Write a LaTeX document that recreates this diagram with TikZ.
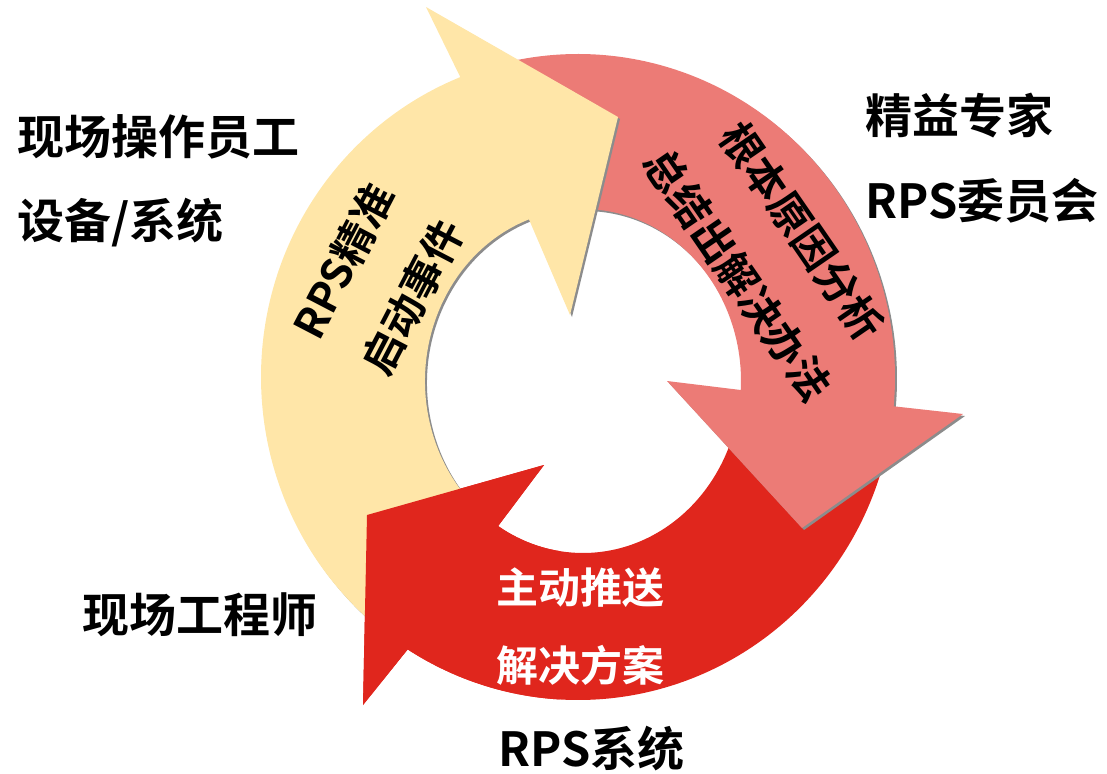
\documentclass[tikz,border=0pt]{standalone}
\usepackage{fontspec}
\newfontfamily\cjk{Noto Sans CJK SC}[BoldFont={Noto Sans CJK SC Bold}]
\usetikzlibrary{shadows}
\definecolor{cycyellow}{RGB}{255,230,168}
\definecolor{cycpink}{RGB}{236,123,118}
\definecolor{cycred}{RGB}{224,38,29}

\begin{document}
\begin{tikzpicture}[
  x=1pt, y=-1pt,
  lbl/.style={font=\cjk\bfseries\fontsize{47}{56}\selectfont, anchor=west, inner sep=0pt},
  intext/.style={font=\cjk\bfseries\fontsize{42}{78}\selectfont, align=center, inner sep=0pt},
  shade/.style={drop shadow={shadow xshift=2pt, shadow yshift=-2pt, fill=black!45, opacity=1}},
  yellowpath/.style={insert path={(131.5:317 and 323)
      arc[start angle=131.5, end angle=248.2, x radius=317, y radius=323]
      -- (-152,-370) -- (40,-260) -- (-8,-62)
      -- ([shift={(5,4)}]250:158 and 172)
      arc[start angle=250, end angle=131.5, x radius=158, y radius=172] -- cycle}},
  pinkpath/.style={insert path={(255:317 and 323)
      arc[start angle=255, end angle=365.2, x radius=317, y radius=323]
      -- (385,37) -- (224,151) -- (89,4)
      -- ([shift={(5,4)}]363:158 and 172)
      arc[start angle=363, end angle=255, x radius=158, y radius=172] -- cycle}},
  redpath/.style={insert path={(10:317 and 323)
      arc[start angle=10, end angle=122.5, x radius=317, y radius=323]
      -- (-215,328) -- (-211,138) -- (-34,88)
      -- ([shift={(5,4)}]122.5:158 and 172)
      arc[start angle=122.5, end angle=10, x radius=158, y radius=172] -- cycle}}
]
  \useasboundingbox (0,0) rectangle (1107,773);

  % the three arrows of the cycle
  \begin{scope}[shift={(578,377)}]
    \path[fill=cycred, redpath];
    \path[fill=cycpink, shade, pinkpath];
    \path[fill=cycyellow, shade, yellowpath];
  \end{scope}
  % red head lies over the yellow tail
  \begin{scope}
    \clip (340,440) rectangle (560,720);
    \path[shift={(578,377)}, fill=cycred, redpath];
  \end{scope}

  % texts on the arrows
  \node[intext, rotate=62.5] (trigger) at (378,279) {RPS精准\\启动事件};
  \node[intext, rotate=-55.5] (analysis) at (770,253) {根本原因分析\\总结出解决办法};
  \node[intext, text=white] (push) at (580,627) {主动推送\\解决方案};

  % roles round the cycle
  \node[lbl] (operator) at (17,137) {现场操作员工};
  \node[lbl] (device) at (17,223) {设备/系统};
  \node[lbl] (expert) at (865,116) {精益专家};
  \node[lbl] (committee) at (865,201) {RPS委员会};
  \node[lbl] (engineer) at (82,615) {现场工程师};
  \node[lbl] (system) at (498,749) {RPS系统};
\end{tikzpicture}
\end{document}
